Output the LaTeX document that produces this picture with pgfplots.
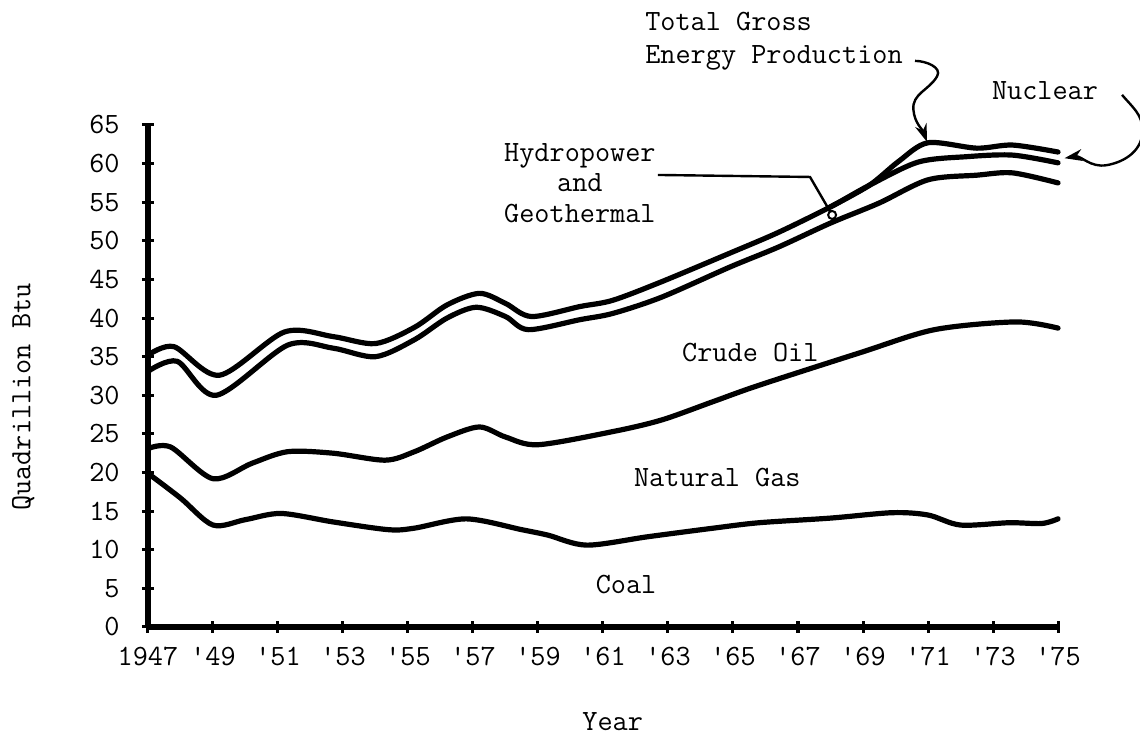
\documentclass[border=0pt]{standalone}
\usepackage{pgfplots}
\pgfplotsset{compat=1.18}
\usetikzlibrary{arrows.meta}
\newcommand{\tw}{\ttfamily\fontsize{14.7}{17}\selectfont}

\begin{document}
\begin{tikzpicture}
\begin{axis}[
    scale only axis,
    width=455pt, height=251pt,
    xmin=1947, xmax=1975, ymin=0, ymax=65,
    axis x line*=bottom, axis y line*=left,
    axis line style={line width=3pt, black},
    clip=false,
    xtick={1947,1949,...,1975},
    xticklabels={1947,\textquotesingle49,\textquotesingle51,\textquotesingle53,\textquotesingle55,\textquotesingle57,\textquotesingle59,\textquotesingle61,\textquotesingle63,\textquotesingle65,\textquotesingle67,\textquotesingle69,\textquotesingle71,\textquotesingle73,\textquotesingle75},
    ytick={0,5,...,65},
    tick align=center,
    major tick length=6pt,
    tick style={line width=1.5pt, black},
    font=\tw,
    /pgf/number format/assume math mode=true,
    yticklabel style={anchor=east, inner sep=0pt, xshift=-11pt},
    xticklabel style={anchor=north, inner sep=0pt, yshift=-7pt},
    every axis plot/.append style={line width=2.6pt, black, line join=round, line cap=round},
]
% coal
\addplot[smooth] coordinates {
 (1947.0,19.9) (1948.0,16.7) (1949.0,13.2) (1950.0,13.9) (1951.1,14.7) (1952.7,13.6)
 (1954.4,12.6) (1955.2,12.8) (1956.8,14.0) (1958.5,12.6) (1959.3,11.9) (1960.5,10.6)
 (1962.4,11.7) (1964.4,12.8) (1965.8,13.5) (1968.0,14.1) (1969.9,14.8) (1971.0,14.5)
 (1972.0,13.2) (1973.5,13.5) (1974.5,13.4) (1975.0,14.0)
};
% + natural gas
\addplot[smooth] coordinates {
 (1947.0,23.1) (1947.7,23.3) (1949.0,19.2) (1950.2,21.2) (1951.3,22.7) (1952.7,22.5)
 (1954.3,21.6) (1955.2,22.7) (1956.2,24.6) (1957.2,25.9) (1958.0,24.6) (1959.0,23.6)
 (1961.3,25.3) (1962.8,26.8) (1964.4,29.2) (1965.8,31.3) (1968.9,35.5) (1971.2,38.5)
 (1973.7,39.5) (1975.0,38.7)
};
% + crude oil
\addplot[smooth] coordinates {
 (1947.0,33.1) (1947.9,34.4) (1949.1,30.0) (1951.3,36.5) (1952.7,36.1) (1954.0,35.0)
 (1955.2,37.2) (1956.2,40.0) (1957.1,41.4) (1958.0,40.2) (1958.7,38.5) (1960.3,39.8)
 (1961.3,40.6) (1962.8,42.7) (1964.9,46.6) (1966.4,49.2) (1968.0,52.3) (1969.5,54.9)
 (1971.0,57.9) (1972.5,58.5) (1973.6,58.8) (1975.0,57.5)
};
% + hydropower and geothermal
\addplot[smooth] coordinates {
 (1947.0,35.2) (1947.8,36.3) (1949.2,32.6) (1951.2,38.2) (1952.7,37.6) (1954.0,36.7)
 (1955.2,38.8) (1956.2,41.7) (1957.2,43.2) (1958.0,41.9) (1958.8,40.2) (1960.3,41.5)
 (1961.3,42.3) (1962.8,44.7) (1964.9,48.4) (1966.4,51.1) (1968.0,54.4) (1969.2,57.2)
 (1970.7,60.2) (1972.2,60.9) (1973.6,61.1) (1975.0,60.1)
};
% + nuclear = total
\addplot[smooth] coordinates {
 (1968.0,54.4) (1969.2,57.2) (1970.1,60.3) (1971.0,62.7) (1972.5,62.0) (1973.6,62.4)
 (1975.0,61.5)
};

% labels
\node[anchor=west] at (axis cs:1963.22,35.6) {Crude Oil};
\node[anchor=west] at (axis cs:1961.74,19.3) {Natural Gas};
\node at (axis cs:1961.71,5.44) {Coal};
\node[align=center, font=\ttfamily\fontsize{14.7}{15.25}\selectfont] at (axis cs:1960.29,57.5) {Hydropower\\and\\Geothermal};
\node[align=left, anchor=west, inner sep=0pt, font=\ttfamily\fontsize{14.7}{16.5}\selectfont] at (axis cs:1962.29,75.9) {Total Gross\\Energy Production};
\node at (axis cs:1974.6,69.5) {Nuclear};

% pointers
\draw[line width=1.2pt] (axis cs:1962.69,58.53) -- (axis cs:1967.37,58.27) -- (axis cs:1968.05,53.35);
\draw[line width=1pt, fill=white] (axis cs:1968.05,53.35) circle (2pt);
\draw[line width=1.2pt, -{Stealth[length=9pt,width=6pt]}]
  (axis cs:1970.6,73.3) to[out=0,in=60] (axis cs:1971.28,71.3)
  to[out=240,in=95] (axis cs:1970.55,67.0) to[out=-85,in=110] (axis cs:1970.97,62.8);
\draw[line width=1.2pt, -{Stealth[length=9pt,width=6pt]}]
  (axis cs:1976.97,68.9) to[out=-50,in=90] (axis cs:1977.6,64.3)
  to[out=-90,in=10] (axis cs:1976.5,59.8) to[out=190,in=10] (axis cs:1975.2,60.7);

% axis titles
\node[rotate=90] at (rel axis cs:-0.137,0.458) {Quadrillion Btu};
\node at (rel axis cs:0.5107,-0.189) {Year};

\coordinate (bbsw) at (rel axis cs:-0.1626,-0.2171);
\coordinate (bbne) at (rel axis cs:1.0901,1.249);
\end{axis}
\pgfresetboundingbox
\path[use as bounding box] (bbsw) rectangle (bbne);
\end{tikzpicture}
\end{document}
